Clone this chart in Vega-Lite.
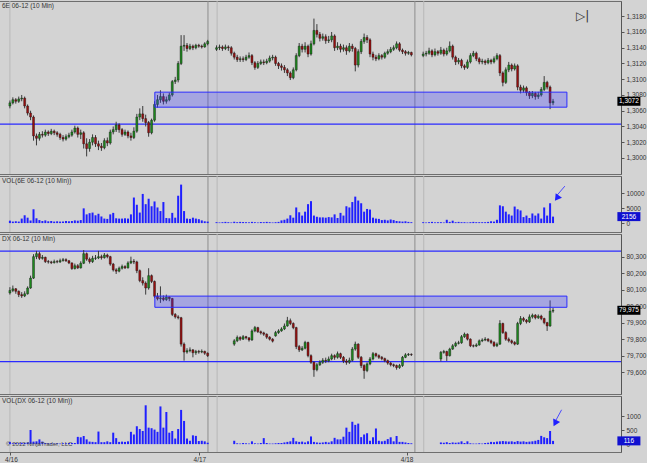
{
"$schema":"https://vega.github.io/schema/vega-lite/v6.json",
"background":"#d3d3d3",
"padding":{"left":-3,"top":0,"right":0,"bottom":0},
"spacing":0,
"config":{
 "font":"Liberation Sans",
 "view":{"stroke":"#6e6e6e","strokeWidth":1},
 "axis":{"labelFont":"Liberation Sans","labelFontSize":6.5,"labelColor":"#333333","tickColor":"#555555","domainColor":"#555555","tickSize":3,"labelPadding":2,"grid":false},
 "title":{"font":"Liberation Sans","fontSize":6.5,"fontWeight":"normal","color":"#333333","anchor":"start","frame":"group","offset":-9,"dx":3}
},
"datasets":{
 "s":[{"x":2,"c":"l"},{"x":69.1,"c":"d"},{"x":72.2,"c":"l"},{"x":139.2,"c":"d"},{"x":142.2,"c":"l"}],
 "lv":[{"p":"e","y":1.30431},{"p":"x","y":80.334},{"p":"x","y":79.664}],
 "z":[{"p":"e","x1":51.1,"x2":190.7,"y1":1.30645,"y2":1.30836},{"p":"x","x1":51.1,"x2":190.7,"y1":79.993,"y2":80.061}],
 "mk":[{"p":"e","x1":207.8,"x2":215.6,"xm":211.7,"y":1.3072,"t":"1,3072"},{"p":"ev","x1":207.8,"x2":215.6,"xm":211.7,"y":2156,"t":"2156"},{"p":"x","x1":207.8,"x2":215.6,"xm":211.7,"y":79.975,"t":"79,975"},{"p":"xv","x1":207.8,"x2":215.6,"xm":211.7,"y":116,"t":"116"}],
 "ar":[{"p":"ev","x1":190,"y1":12300,"x2":187.4,"y2":9300,"hx":187.3,"hy":8300},{"p":"xv","x1":188.9,"y1":1230,"x2":186.9,"y2":840,"hx":186.7,"hy":750}],
 "b":[
{"i":2,"eo":1.3066,"eh":1.3073,"el":1.3063,"ec":1.3070,"ev":800,"xo":80.080,"xh":80.115,"xl":80.070,"xc":80.095,"xv":80},
{"i":3,"eo":1.3070,"eh":1.3077,"el":1.3068,"ec":1.3074,"ev":500,"xo":80.095,"xh":80.125,"xl":80.085,"xc":80.105,"xv":30},
{"i":4,"eo":1.3074,"eh":1.3076,"el":1.3069,"ec":1.3072,"ev":600,"xo":80.105,"xh":80.110,"xl":80.075,"xc":80.090,"xv":40},
{"i":5,"eo":1.3072,"eh":1.3078,"el":1.3070,"ec":1.3075,"ev":500,"xo":80.090,"xh":80.095,"xl":80.055,"xc":80.070,"xv":30},
{"i":6,"eo":1.3075,"eh":1.3080,"el":1.3072,"ec":1.3076,"ev":1500,"xo":80.070,"xh":80.085,"xl":80.050,"xc":80.062,"xv":50},
{"i":7,"eo":1.3076,"eh":1.3078,"el":1.3063,"ec":1.3066,"ev":2600,"xo":80.062,"xh":80.090,"xl":80.055,"xc":80.075,"xv":40},
{"i":8,"eo":1.3066,"eh":1.3068,"el":1.3054,"ec":1.3057,"ev":1800,"xo":80.075,"xh":80.120,"xl":80.070,"xc":80.110,"xv":60},
{"i":9,"eo":1.3057,"eh":1.3060,"el":1.3048,"ec":1.3052,"ev":900,"xo":80.110,"xh":80.185,"xl":80.105,"xc":80.170,"xv":510},
{"i":10,"eo":1.3052,"eh":1.3054,"el":1.3022,"ec":1.3028,"ev":4600,"xo":80.170,"xh":80.315,"xl":80.165,"xc":80.300,"xv":90},
{"i":11,"eo":1.3028,"eh":1.3031,"el":1.3016,"ec":1.3025,"ev":1600,"xo":80.300,"xh":80.335,"xl":80.285,"xc":80.318,"xv":100},
{"i":12,"eo":1.3025,"eh":1.3033,"el":1.3022,"ec":1.3030,"ev":1000,"xo":80.318,"xh":80.330,"xl":80.280,"xc":80.290,"xv":170},
{"i":13,"eo":1.3030,"eh":1.3034,"el":1.3026,"ec":1.3029,"ev":700,"xo":80.290,"xh":80.310,"xl":80.282,"xc":80.296,"xv":90},
{"i":14,"eo":1.3029,"eh":1.3036,"el":1.3027,"ec":1.3033,"ev":900,"xo":80.296,"xh":80.300,"xl":80.262,"xc":80.270,"xv":40},
{"i":15,"eo":1.3033,"eh":1.3035,"el":1.3028,"ec":1.3031,"ev":600,"xo":80.270,"xh":80.280,"xl":80.258,"xc":80.268,"xv":30},
{"i":16,"eo":1.3031,"eh":1.3037,"el":1.3029,"ec":1.3034,"ev":700,"xo":80.268,"xh":80.275,"xl":80.255,"xc":80.264,"xv":30},
{"i":17,"eo":1.3034,"eh":1.3036,"el":1.3029,"ec":1.3032,"ev":500,"xo":80.264,"xh":80.282,"xl":80.258,"xc":80.270,"xv":20},
{"i":18,"eo":1.3032,"eh":1.3034,"el":1.3027,"ec":1.3030,"ev":600,"xo":80.270,"xh":80.280,"xl":80.260,"xc":80.268,"xv":30},
{"i":19,"eo":1.3030,"eh":1.3032,"el":1.3023,"ec":1.3026,"ev":500,"xo":80.268,"xh":80.288,"xl":80.262,"xc":80.276,"xv":20},
{"i":20,"eo":1.3026,"eh":1.3029,"el":1.3021,"ec":1.3024,"ev":500,"xo":80.276,"xh":80.292,"xl":80.270,"xc":80.282,"xv":30},
{"i":21,"eo":1.3024,"eh":1.3030,"el":1.3022,"ec":1.3027,"ev":700,"xo":80.282,"xh":80.290,"xl":80.268,"xc":80.275,"xv":30},
{"i":22,"eo":1.3027,"eh":1.3032,"el":1.3025,"ec":1.3029,"ev":600,"xo":80.275,"xh":80.280,"xl":80.255,"xc":80.262,"xv":40},
{"i":23,"eo":1.3029,"eh":1.3036,"el":1.3027,"ec":1.3033,"ev":700,"xo":80.262,"xh":80.265,"xl":80.220,"xc":80.228,"xv":40},
{"i":24,"eo":1.3033,"eh":1.3041,"el":1.3031,"ec":1.3038,"ev":900,"xo":80.228,"xh":80.258,"xl":80.222,"xc":80.245,"xv":40},
{"i":25,"eo":1.3038,"eh":1.3040,"el":1.3026,"ec":1.3030,"ev":800,"xo":80.245,"xh":80.255,"xl":80.225,"xc":80.232,"xv":260},
{"i":26,"eo":1.3030,"eh":1.3036,"el":1.3024,"ec":1.3032,"ev":1000,"xo":80.232,"xh":80.272,"xl":80.228,"xc":80.260,"xv":245},
{"i":27,"eo":1.3032,"eh":1.3034,"el":1.3012,"ec":1.3018,"ev":4900,"xo":80.260,"xh":80.340,"xl":80.255,"xc":80.318,"xv":290},
{"i":28,"eo":1.3018,"eh":1.3025,"el":1.3002,"ec":1.3012,"ev":2900,"xo":80.318,"xh":80.325,"xl":80.275,"xc":80.285,"xv":170},
{"i":29,"eo":1.3012,"eh":1.3024,"el":1.3008,"ec":1.3020,"ev":3300,"xo":80.285,"xh":80.295,"xl":80.258,"xc":80.270,"xv":90},
{"i":30,"eo":1.3020,"eh":1.3030,"el":1.3016,"ec":1.3026,"ev":3500,"xo":80.270,"xh":80.305,"xl":80.262,"xc":80.290,"xv":80},
{"i":31,"eo":1.3026,"eh":1.3029,"el":1.3014,"ec":1.3018,"ev":2600,"xo":80.290,"xh":80.310,"xl":80.280,"xc":80.292,"xv":70},
{"i":32,"eo":1.3018,"eh":1.3022,"el":1.3010,"ec":1.3015,"ev":3100,"xo":80.292,"xh":80.335,"xl":80.285,"xc":80.300,"xv":450},
{"i":33,"eo":1.3015,"eh":1.3019,"el":1.3009,"ec":1.3013,"ev":2200,"xo":80.300,"xh":80.312,"xl":80.282,"xc":80.294,"xv":70},
{"i":34,"eo":1.3013,"eh":1.3025,"el":1.3011,"ec":1.3022,"ev":1500,"xo":80.294,"xh":80.322,"xl":80.288,"xc":80.310,"xv":70},
{"i":35,"eo":1.3022,"eh":1.3026,"el":1.3015,"ec":1.3019,"ev":1400,"xo":80.310,"xh":80.318,"xl":80.290,"xc":80.300,"xv":100},
{"i":36,"eo":1.3019,"eh":1.3036,"el":1.3017,"ec":1.3033,"ev":2900,"xo":80.300,"xh":80.305,"xl":80.245,"xc":80.255,"xv":70},
{"i":37,"eo":1.3033,"eh":1.3040,"el":1.3030,"ec":1.3036,"ev":3400,"xo":80.255,"xh":80.262,"xl":80.210,"xc":80.220,"xv":410},
{"i":38,"eo":1.3036,"eh":1.3046,"el":1.3033,"ec":1.3042,"ev":1600,"xo":80.220,"xh":80.230,"xl":80.195,"xc":80.212,"xv":215},
{"i":39,"eo":1.3042,"eh":1.3044,"el":1.3032,"ec":1.3036,"ev":1500,"xo":80.212,"xh":80.240,"xl":80.205,"xc":80.230,"xv":80},
{"i":40,"eo":1.3036,"eh":1.3038,"el":1.3027,"ec":1.3030,"ev":1500,"xo":80.230,"xh":80.252,"xl":80.222,"xc":80.240,"xv":90},
{"i":41,"eo":1.3030,"eh":1.3036,"el":1.3028,"ec":1.3033,"ev":1600,"xo":80.240,"xh":80.248,"xl":80.225,"xc":80.232,"xv":80},
{"i":42,"eo":1.3033,"eh":1.3035,"el":1.3025,"ec":1.3028,"ev":1500,"xo":80.232,"xh":80.272,"xl":80.228,"xc":80.262,"xv":100},
{"i":43,"eo":1.3028,"eh":1.3032,"el":1.3022,"ec":1.3026,"ev":2900,"xo":80.262,"xh":80.300,"xl":80.255,"xc":80.272,"xv":440},
{"i":44,"eo":1.3026,"eh":1.3039,"el":1.3024,"ec":1.3034,"ev":8500,"xo":80.272,"xh":80.285,"xl":80.255,"xc":80.268,"xv":345},
{"i":45,"eo":1.3034,"eh":1.3056,"el":1.3032,"ec":1.3052,"ev":6100,"xo":80.268,"xh":80.275,"xl":80.200,"xc":80.215,"xv":640},
{"i":46,"eo":1.3052,"eh":1.3063,"el":1.3048,"ec":1.3056,"ev":3500,"xo":80.215,"xh":80.222,"xl":80.145,"xc":80.155,"xv":540},
{"i":47,"eo":1.3056,"eh":1.3066,"el":1.3046,"ec":1.3050,"ev":9700,"xo":80.155,"xh":80.175,"xl":80.125,"xc":80.140,"xv":470},
{"i":48,"eo":1.3050,"eh":1.3055,"el":1.3040,"ec":1.3045,"ev":6300,"xo":80.140,"xh":80.150,"xl":80.070,"xc":80.110,"xv":1390},
{"i":49,"eo":1.3045,"eh":1.3047,"el":1.3027,"ec":1.3032,"ev":8100,"xo":80.110,"xh":80.230,"xl":80.100,"xc":80.185,"xv":590},
{"i":50,"eo":1.3032,"eh":1.3050,"el":1.3030,"ec":1.3048,"ev":5600,"xo":80.185,"xh":80.192,"xl":80.140,"xc":80.150,"xv":570},
{"i":51,"eo":1.3048,"eh":1.3072,"el":1.3046,"ec":1.3068,"ev":7200,"xo":80.150,"xh":80.155,"xl":80.050,"xc":80.060,"xv":520},
{"i":52,"eo":1.3068,"eh":1.3080,"el":1.3064,"ec":1.3074,"ev":5200,"xo":80.060,"xh":80.080,"xl":80.035,"xc":80.045,"xv":440},
{"i":53,"eo":1.3074,"eh":1.3086,"el":1.3070,"ec":1.3078,"ev":4000,"xo":80.045,"xh":80.120,"xl":80.020,"xc":80.050,"xv":1350},
{"i":54,"eo":1.3078,"eh":1.3082,"el":1.3068,"ec":1.3072,"ev":7000,"xo":80.050,"xh":80.065,"xl":80.030,"xc":80.040,"xv":590},
{"i":55,"eo":1.3072,"eh":1.3078,"el":1.3069,"ec":1.3074,"ev":1700,"xo":80.040,"xh":80.070,"xl":80.032,"xc":80.055,"xv":1150},
{"i":56,"eo":1.3074,"eh":1.3083,"el":1.3072,"ec":1.3080,"ev":1600,"xo":80.055,"xh":80.060,"xl":80.030,"xc":80.046,"xv":410},
{"i":57,"eo":1.3080,"eh":1.3099,"el":1.3078,"ec":1.3097,"ev":3400,"xo":80.046,"xh":80.050,"xl":79.940,"xc":79.950,"xv":470},
{"i":58,"eo":1.3097,"eh":1.3103,"el":1.3094,"ec":1.3099,"ev":1800,"xo":79.950,"xh":79.958,"xl":79.925,"xc":79.935,"xv":200},
{"i":59,"eo":1.3099,"eh":1.3123,"el":1.3096,"ec":1.3120,"ev":9100,"xo":79.935,"xh":79.945,"xl":79.920,"xc":79.930,"xv":540},
{"i":60,"eo":1.3120,"eh":1.3156,"el":1.3118,"ec":1.3142,"ev":12800,"xo":79.930,"xh":79.935,"xl":79.755,"xc":79.770,"xv":1225},
{"i":61,"eo":1.3142,"eh":1.3156,"el":1.3136,"ec":1.3143,"ev":4000,"xo":79.770,"xh":79.780,"xl":79.670,"xc":79.722,"xv":830},
{"i":62,"eo":1.3143,"eh":1.3146,"el":1.3135,"ec":1.3139,"ev":1500,"xo":79.722,"xh":79.745,"xl":79.712,"xc":79.730,"xv":200},
{"i":63,"eo":1.3139,"eh":1.3145,"el":1.3137,"ec":1.3142,"ev":1400,"xo":79.730,"xh":79.750,"xl":79.720,"xc":79.735,"xv":120},
{"i":64,"eo":1.3142,"eh":1.3144,"el":1.3137,"ec":1.3140,"ev":1800,"xo":79.735,"xh":79.740,"xl":79.690,"xc":79.718,"xv":315},
{"i":65,"eo":1.3140,"eh":1.3145,"el":1.3138,"ec":1.3143,"ev":1500,"xo":79.718,"xh":79.735,"xl":79.705,"xc":79.725,"xv":295},
{"i":66,"eo":1.3143,"eh":1.3145,"el":1.3140,"ec":1.3142,"ev":1300,"xo":79.725,"xh":79.735,"xl":79.712,"xc":79.722,"xv":110},
{"i":67,"eo":1.3142,"eh":1.3144,"el":1.3139,"ec":1.3141,"ev":900,"xo":79.722,"xh":79.738,"xl":79.715,"xc":79.726,"xv":120},
{"i":68,"eo":1.3141,"eh":1.3147,"el":1.3140,"ec":1.3145,"ev":600,"xo":79.726,"xh":79.730,"xl":79.705,"xc":79.715,"xv":100},
{"i":69,"eo":1.3145,"eh":1.3150,"el":1.3143,"ec":1.3148,"ev":500,"xo":79.715,"xh":79.720,"xl":79.692,"xc":79.700,"xv":50},
{"i":72,"eo":1.3138,"eh":1.3143,"el":1.3136,"ec":1.3140,"ev":300},
{"i":73,"eo":1.3140,"eh":1.3144,"el":1.3137,"ec":1.3141,"ev":200},
{"i":74,"eo":1.3141,"eh":1.3143,"el":1.3136,"ec":1.3139,"ev":300},
{"i":75,"eo":1.3139,"eh":1.3144,"el":1.3137,"ec":1.3141,"ev":400},
{"i":76,"eo":1.3141,"eh":1.3143,"el":1.3136,"ec":1.3140,"ev":300},
{"i":77,"eo":1.3140,"eh":1.3142,"el":1.3130,"ec":1.3133,"ev":200},
{"i":78,"eo":1.3133,"eh":1.3135,"el":1.3125,"ec":1.3128,"ev":450,"xo":79.770,"xh":79.800,"xl":79.760,"xc":79.790,"xv":120},
{"i":79,"eo":1.3128,"eh":1.3131,"el":1.3122,"ec":1.3125,"ev":300,"xo":79.790,"xh":79.822,"xl":79.782,"xc":79.810,"xv":30},
{"i":80,"eo":1.3125,"eh":1.3129,"el":1.3122,"ec":1.3126,"ev":400,"xo":79.810,"xh":79.818,"xl":79.790,"xc":79.800,"xv":20},
{"i":81,"eo":1.3126,"eh":1.3129,"el":1.3122,"ec":1.3125,"ev":350,"xo":79.800,"xh":79.825,"xl":79.795,"xc":79.815,"xv":40},
{"i":82,"eo":1.3125,"eh":1.3131,"el":1.3123,"ec":1.3128,"ev":300,"xo":79.815,"xh":79.820,"xl":79.798,"xc":79.808,"xv":30},
{"i":83,"eo":1.3128,"eh":1.3134,"el":1.3126,"ec":1.3130,"ev":250,"xo":79.808,"xh":79.812,"xl":79.785,"xc":79.795,"xv":20},
{"i":84,"eo":1.3130,"eh":1.3132,"el":1.3118,"ec":1.3121,"ev":400,"xo":79.795,"xh":79.860,"xl":79.790,"xc":79.850,"xv":100},
{"i":85,"eo":1.3121,"eh":1.3123,"el":1.3112,"ec":1.3115,"ev":300,"xo":79.850,"xh":79.880,"xl":79.842,"xc":79.870,"xv":30},
{"i":86,"eo":1.3115,"eh":1.3123,"el":1.3113,"ec":1.3120,"ev":200,"xo":79.870,"xh":79.875,"xl":79.838,"xc":79.845,"xv":20},
{"i":87,"eo":1.3120,"eh":1.3125,"el":1.3118,"ec":1.3122,"ev":350,"xo":79.845,"xh":79.852,"xl":79.828,"xc":79.838,"xv":40},
{"i":88,"eo":1.3122,"eh":1.3125,"el":1.3118,"ec":1.3121,"ev":300,"xo":79.838,"xh":79.845,"xl":79.820,"xc":79.830,"xv":215},
{"i":89,"eo":1.3121,"eh":1.3126,"el":1.3119,"ec":1.3123,"ev":400,"xo":79.830,"xh":79.835,"xl":79.802,"xc":79.812,"xv":40},
{"i":90,"eo":1.3123,"eh":1.3130,"el":1.3121,"ec":1.3127,"ev":300,"xo":79.812,"xh":79.818,"xl":79.792,"xc":79.800,"xv":20},
{"i":91,"eo":1.3127,"eh":1.3131,"el":1.3124,"ec":1.3128,"ev":200,"xo":79.800,"xh":79.806,"xl":79.780,"xc":79.788,"xv":20},
{"i":92,"eo":1.3128,"eh":1.3130,"el":1.3117,"ec":1.3120,"ev":300,"xo":79.820,"xh":79.850,"xl":79.815,"xc":79.840,"xv":30},
{"i":93,"eo":1.3120,"eh":1.3122,"el":1.3113,"ec":1.3117,"ev":400,"xo":79.840,"xh":79.860,"xl":79.832,"xc":79.850,"xv":40},
{"i":94,"eo":1.3117,"eh":1.3120,"el":1.3111,"ec":1.3115,"ev":900,"xo":79.850,"xh":79.872,"xl":79.845,"xc":79.862,"xv":40},
{"i":95,"eo":1.3115,"eh":1.3118,"el":1.3108,"ec":1.3112,"ev":1100,"xo":79.862,"xh":79.895,"xl":79.855,"xc":79.880,"xv":60},
{"i":96,"eo":1.3112,"eh":1.3114,"el":1.3104,"ec":1.3108,"ev":1500,"xo":79.880,"xh":79.935,"xl":79.875,"xc":79.912,"xv":80},
{"i":97,"eo":1.3108,"eh":1.3110,"el":1.3099,"ec":1.3102,"ev":2600,"xo":79.912,"xh":79.925,"xl":79.885,"xc":79.895,"xv":100},
{"i":98,"eo":1.3102,"eh":1.3115,"el":1.3100,"ec":1.3112,"ev":1800,"xo":79.895,"xh":79.902,"xl":79.860,"xc":79.870,"xv":225},
{"i":99,"eo":1.3112,"eh":1.3133,"el":1.3110,"ec":1.3130,"ev":5200,"xo":79.870,"xh":79.875,"xl":79.740,"xc":79.755,"xv":100},
{"i":100,"eo":1.3130,"eh":1.3146,"el":1.3128,"ec":1.3142,"ev":3600,"xo":79.755,"xh":79.765,"xl":79.722,"xc":79.735,"xv":80},
{"i":101,"eo":1.3142,"eh":1.3145,"el":1.3134,"ec":1.3138,"ev":2500,"xo":79.735,"xh":79.758,"xl":79.728,"xc":79.745,"xv":90},
{"i":102,"eo":1.3138,"eh":1.3147,"el":1.3134,"ec":1.3142,"ev":3800,"xo":79.745,"xh":79.790,"xl":79.738,"xc":79.780,"xv":60},
{"i":103,"eo":1.3142,"eh":1.3144,"el":1.3128,"ec":1.3132,"ev":6300,"xo":79.780,"xh":79.785,"xl":79.690,"xc":79.700,"xv":100},
{"i":104,"eo":1.3132,"eh":1.3149,"el":1.3130,"ec":1.3145,"ev":7300,"xo":79.700,"xh":79.708,"xl":79.650,"xc":79.660,"xv":275},
{"i":105,"eo":1.3145,"eh":1.3177,"el":1.3143,"ec":1.3162,"ev":2500,"xo":79.660,"xh":79.665,"xl":79.572,"xc":79.615,"xv":80},
{"i":106,"eo":1.3162,"eh":1.3170,"el":1.3153,"ec":1.3157,"ev":2100,"xo":79.615,"xh":79.655,"xl":79.605,"xc":79.645,"xv":60},
{"i":107,"eo":1.3157,"eh":1.3160,"el":1.3148,"ec":1.3152,"ev":1900,"xo":79.645,"xh":79.672,"xl":79.638,"xc":79.660,"xv":50},
{"i":108,"eo":1.3152,"eh":1.3158,"el":1.3149,"ec":1.3154,"ev":1900,"xo":79.660,"xh":79.685,"xl":79.650,"xc":79.672,"xv":60},
{"i":109,"eo":1.3154,"eh":1.3157,"el":1.3145,"ec":1.3149,"ev":1800,"xo":79.672,"xh":79.688,"xl":79.655,"xc":79.668,"xv":80},
{"i":110,"eo":1.3149,"eh":1.3155,"el":1.3146,"ec":1.3150,"ev":2000,"xo":79.668,"xh":79.695,"xl":79.660,"xc":79.680,"xv":60},
{"i":111,"eo":1.3150,"eh":1.3160,"el":1.3147,"ec":1.3155,"ev":1900,"xo":79.680,"xh":79.712,"xl":79.672,"xc":79.700,"xv":100},
{"i":112,"eo":1.3155,"eh":1.3157,"el":1.3136,"ec":1.3140,"ev":2900,"xo":79.700,"xh":79.708,"xl":79.675,"xc":79.690,"xv":225},
{"i":113,"eo":1.3140,"eh":1.3147,"el":1.3137,"ec":1.3142,"ev":1700,"xo":79.690,"xh":79.725,"xl":79.682,"xc":79.712,"xv":170},
{"i":114,"eo":1.3142,"eh":1.3145,"el":1.3134,"ec":1.3138,"ev":3400,"xo":79.712,"xh":79.718,"xl":79.680,"xc":79.690,"xv":170},
{"i":115,"eo":1.3138,"eh":1.3144,"el":1.3135,"ec":1.3140,"ev":2500,"xo":79.690,"xh":79.698,"xl":79.655,"xc":79.668,"xv":265},
{"i":116,"eo":1.3140,"eh":1.3143,"el":1.3131,"ec":1.3136,"ev":5600,"xo":79.668,"xh":79.680,"xl":79.645,"xc":79.660,"xv":590},
{"i":117,"eo":1.3136,"eh":1.3146,"el":1.3134,"ec":1.3142,"ev":5200,"xo":79.660,"xh":79.688,"xl":79.650,"xc":79.672,"xv":440},
{"i":118,"eo":1.3142,"eh":1.3145,"el":1.3135,"ec":1.3139,"ev":7000,"xo":79.672,"xh":79.752,"xl":79.665,"xc":79.740,"xv":800},
{"i":119,"eo":1.3139,"eh":1.3141,"el":1.3110,"ec":1.3118,"ev":8800,"xo":79.740,"xh":79.785,"xl":79.730,"xc":79.770,"xv":690},
{"i":120,"eo":1.3118,"eh":1.3138,"el":1.3115,"ec":1.3135,"ev":7500,"xo":79.770,"xh":79.775,"xl":79.680,"xc":79.690,"xv":735},
{"i":121,"eo":1.3135,"eh":1.3151,"el":1.3132,"ec":1.3148,"ev":6600,"xo":79.690,"xh":79.698,"xl":79.625,"xc":79.640,"xv":250},
{"i":122,"eo":1.3148,"eh":1.3158,"el":1.3145,"ec":1.3153,"ev":3800,"xo":79.640,"xh":79.648,"xl":79.560,"xc":79.610,"xv":345},
{"i":123,"eo":1.3153,"eh":1.3156,"el":1.3146,"ec":1.3150,"ev":4700,"xo":79.610,"xh":79.660,"xl":79.600,"xc":79.650,"xv":390},
{"i":124,"eo":1.3150,"eh":1.3152,"el":1.3128,"ec":1.3132,"ev":4500,"xo":79.650,"xh":79.692,"xl":79.642,"xc":79.680,"xv":120},
{"i":125,"eo":1.3132,"eh":1.3135,"el":1.3124,"ec":1.3128,"ev":1800,"xo":79.680,"xh":79.722,"xl":79.672,"xc":79.712,"xv":245},
{"i":126,"eo":1.3128,"eh":1.3131,"el":1.3123,"ec":1.3126,"ev":1500,"xo":79.712,"xh":79.718,"xl":79.690,"xc":79.700,"xv":560},
{"i":127,"eo":1.3126,"eh":1.3133,"el":1.3124,"ec":1.3130,"ev":1400,"xo":79.700,"xh":79.708,"xl":79.680,"xc":79.690,"xv":120},
{"i":128,"eo":1.3130,"eh":1.3132,"el":1.3125,"ec":1.3128,"ev":1000,"xo":79.690,"xh":79.698,"xl":79.672,"xc":79.682,"xv":100},
{"i":129,"eo":1.3128,"eh":1.3135,"el":1.3126,"ec":1.3133,"ev":1100,"xo":79.682,"xh":79.688,"xl":79.660,"xc":79.670,"xv":120},
{"i":130,"eo":1.3133,"eh":1.3138,"el":1.3131,"ec":1.3135,"ev":900,"xo":79.670,"xh":79.676,"xl":79.645,"xc":79.655,"xv":180},
{"i":131,"eo":1.3135,"eh":1.3141,"el":1.3133,"ec":1.3138,"ev":1200,"xo":79.655,"xh":79.662,"xl":79.635,"xc":79.645,"xv":245},
{"i":132,"eo":1.3138,"eh":1.3143,"el":1.3136,"ec":1.3140,"ev":1000,"xo":79.645,"xh":79.652,"xl":79.630,"xc":79.640,"xv":100},
{"i":133,"eo":1.3140,"eh":1.3148,"el":1.3138,"ec":1.3145,"ev":700,"xo":79.640,"xh":79.646,"xl":79.615,"xc":79.628,"xv":290},
{"i":134,"eo":1.3145,"eh":1.3147,"el":1.3135,"ec":1.3137,"ev":600,"xo":79.628,"xh":79.650,"xl":79.620,"xc":79.640,"xv":80},
{"i":135,"eo":1.3137,"eh":1.3139,"el":1.3132,"ec":1.3135,"ev":500,"xo":79.640,"xh":79.698,"xl":79.632,"xc":79.690,"xv":80},
{"i":136,"eo":1.3135,"eh":1.3137,"el":1.3130,"ec":1.3133,"ev":600,"xo":79.690,"xh":79.715,"xl":79.685,"xc":79.705,"xv":60},
{"i":137,"eo":1.3133,"eh":1.3136,"el":1.3131,"ec":1.3134,"ev":400,"xo":79.705,"xh":79.716,"xl":79.698,"xc":79.708,"xv":40},
{"i":138,"eo":1.3134,"eh":1.3135,"el":1.3129,"ec":1.3131,"ev":300,"xo":79.708,"xh":79.714,"xl":79.698,"xc":79.706,"xv":30},
{"i":142,"eo":1.3130,"eh":1.3135,"el":1.3128,"ec":1.3132,"ev":300},
{"i":143,"eo":1.3132,"eh":1.3136,"el":1.3129,"ec":1.3133,"ev":200},
{"i":144,"eo":1.3133,"eh":1.3140,"el":1.3131,"ec":1.3136,"ev":300},
{"i":145,"eo":1.3136,"eh":1.3138,"el":1.3128,"ec":1.3131,"ev":400},
{"i":146,"eo":1.3131,"eh":1.3139,"el":1.3129,"ec":1.3135,"ev":250},
{"i":147,"eo":1.3135,"eh":1.3137,"el":1.3130,"ec":1.3133,"ev":300},
{"i":148,"eo":1.3133,"eh":1.3141,"el":1.3131,"ec":1.3137,"ev":300,"xo":79.680,"xh":79.728,"xl":79.665,"xc":79.720,"xv":60},
{"i":149,"eo":1.3137,"eh":1.3139,"el":1.3129,"ec":1.3132,"ev":200,"xo":79.720,"xh":79.735,"xl":79.712,"xc":79.725,"xv":50},
{"i":150,"eo":1.3132,"eh":1.3140,"el":1.3130,"ec":1.3136,"ev":1100,"xo":79.725,"xh":79.730,"xl":79.668,"xc":79.700,"xv":70},
{"i":151,"eo":1.3136,"eh":1.3148,"el":1.3134,"ec":1.3142,"ev":400,"xo":79.700,"xh":79.748,"xl":79.695,"xc":79.740,"xv":40},
{"i":152,"eo":1.3142,"eh":1.3144,"el":1.3125,"ec":1.3128,"ev":800,"xo":79.740,"xh":79.770,"xl":79.735,"xc":79.760,"xv":60},
{"i":153,"eo":1.3128,"eh":1.3130,"el":1.3118,"ec":1.3122,"ev":300,"xo":79.760,"xh":79.785,"xl":79.752,"xc":79.775,"xv":50},
{"i":154,"eo":1.3122,"eh":1.3127,"el":1.3119,"ec":1.3124,"ev":400,"xo":79.775,"xh":79.790,"xl":79.768,"xc":79.778,"xv":60},
{"i":155,"eo":1.3124,"eh":1.3126,"el":1.3114,"ec":1.3117,"ev":300,"xo":79.778,"xh":79.825,"xl":79.772,"xc":79.815,"xv":100},
{"i":156,"eo":1.3117,"eh":1.3119,"el":1.3112,"ec":1.3115,"ev":300,"xo":79.815,"xh":79.840,"xl":79.808,"xc":79.830,"xv":40},
{"i":157,"eo":1.3115,"eh":1.3125,"el":1.3113,"ec":1.3122,"ev":200,"xo":79.830,"xh":79.835,"xl":79.792,"xc":79.800,"xv":100},
{"i":158,"eo":1.3122,"eh":1.3133,"el":1.3120,"ec":1.3130,"ev":300,"xo":79.800,"xh":79.805,"xl":79.752,"xc":79.760,"xv":30},
{"i":159,"eo":1.3130,"eh":1.3136,"el":1.3128,"ec":1.3133,"ev":400,"xo":79.760,"xh":79.768,"xl":79.750,"xc":79.758,"xv":20},
{"i":160,"eo":1.3133,"eh":1.3135,"el":1.3123,"ec":1.3126,"ev":300,"xo":79.758,"xh":79.775,"xl":79.752,"xc":79.765,"xv":20},
{"i":161,"eo":1.3126,"eh":1.3128,"el":1.3119,"ec":1.3122,"ev":300,"xo":79.765,"xh":79.798,"xl":79.760,"xc":79.790,"xv":30},
{"i":162,"eo":1.3122,"eh":1.3126,"el":1.3119,"ec":1.3123,"ev":300,"xo":79.790,"xh":79.805,"xl":79.782,"xc":79.795,"xv":20},
{"i":163,"eo":1.3123,"eh":1.3125,"el":1.3118,"ec":1.3121,"ev":300,"xo":79.795,"xh":79.812,"xl":79.788,"xc":79.800,"xv":40},
{"i":164,"eo":1.3121,"eh":1.3127,"el":1.3119,"ec":1.3124,"ev":400,"xo":79.800,"xh":79.806,"xl":79.782,"xc":79.790,"xv":50},
{"i":165,"eo":1.3124,"eh":1.3126,"el":1.3119,"ec":1.3122,"ev":600,"xo":79.790,"xh":79.798,"xl":79.770,"xc":79.780,"xv":80},
{"i":166,"eo":1.3122,"eh":1.3129,"el":1.3120,"ec":1.3126,"ev":500,"xo":79.780,"xh":79.788,"xl":79.752,"xc":79.760,"xv":70},
{"i":167,"eo":1.3126,"eh":1.3133,"el":1.3124,"ec":1.3130,"ev":1100,"xo":79.760,"xh":79.780,"xl":79.752,"xc":79.770,"xv":90},
{"i":168,"eo":1.3130,"eh":1.3132,"el":1.3104,"ec":1.3108,"ev":5900,"xo":79.770,"xh":79.915,"xl":79.765,"xc":79.895,"xv":100},
{"i":169,"eo":1.3108,"eh":1.3110,"el":1.3091,"ec":1.3096,"ev":5600,"xo":79.895,"xh":79.900,"xl":79.832,"xc":79.840,"xv":110},
{"i":170,"eo":1.3096,"eh":1.3115,"el":1.3094,"ec":1.3112,"ev":3800,"xo":79.840,"xh":79.848,"xl":79.790,"xc":79.800,"xv":100},
{"i":171,"eo":1.3112,"eh":1.3122,"el":1.3109,"ec":1.3118,"ev":2900,"xo":79.800,"xh":79.810,"xl":79.780,"xc":79.790,"xv":90},
{"i":172,"eo":1.3118,"eh":1.3120,"el":1.3110,"ec":1.3113,"ev":2500,"xo":79.790,"xh":79.798,"xl":79.770,"xc":79.780,"xv":100},
{"i":173,"eo":1.3113,"eh":1.3120,"el":1.3111,"ec":1.3117,"ev":5500,"xo":79.780,"xh":79.788,"xl":79.762,"xc":79.770,"xv":80},
{"i":174,"eo":1.3117,"eh":1.3119,"el":1.3086,"ec":1.3090,"ev":4600,"xo":79.770,"xh":79.905,"xl":79.765,"xc":79.895,"xv":110},
{"i":175,"eo":1.3090,"eh":1.3093,"el":1.3082,"ec":1.3086,"ev":4200,"xo":79.895,"xh":79.940,"xl":79.885,"xc":79.925,"xv":90},
{"i":176,"eo":1.3086,"eh":1.3092,"el":1.3083,"ec":1.3089,"ev":2000,"xo":79.925,"xh":79.935,"xl":79.905,"xc":79.915,"xv":100},
{"i":177,"eo":1.3089,"eh":1.3091,"el":1.3079,"ec":1.3083,"ev":2500,"xo":79.915,"xh":79.922,"xl":79.895,"xc":79.905,"xv":80},
{"i":178,"eo":1.3083,"eh":1.3085,"el":1.3075,"ec":1.3079,"ev":1700,"xo":79.905,"xh":79.950,"xl":79.898,"xc":79.935,"xv":90},
{"i":179,"eo":1.3079,"eh":1.3085,"el":1.3076,"ec":1.3082,"ev":3200,"xo":79.935,"xh":79.955,"xl":79.925,"xc":79.945,"xv":100},
{"i":180,"eo":1.3082,"eh":1.3084,"el":1.3074,"ec":1.3078,"ev":2500,"xo":79.945,"xh":79.952,"xl":79.920,"xc":79.930,"xv":120},
{"i":181,"eo":1.3078,"eh":1.3084,"el":1.3075,"ec":1.3080,"ev":3200,"xo":79.930,"xh":79.950,"xl":79.922,"xc":79.940,"xv":150},
{"i":182,"eo":1.3080,"eh":1.3090,"el":1.3078,"ec":1.3087,"ev":1500,"xo":79.940,"xh":79.948,"xl":79.915,"xc":79.925,"xv":295},
{"i":183,"eo":1.3087,"eh":1.3104,"el":1.3085,"ec":1.3096,"ev":5200,"xo":79.925,"xh":79.930,"xl":79.890,"xc":79.900,"xv":245},
{"i":184,"eo":1.3096,"eh":1.3098,"el":1.3087,"ec":1.3090,"ev":2500,"xo":79.900,"xh":79.905,"xl":79.850,"xc":79.880,"xv":215},
{"i":185,"eo":1.3090,"eh":1.3092,"el":1.3062,"ec":1.3070,"ev":6600,"xo":79.880,"xh":80.035,"xl":79.875,"xc":79.970,"xv":470},
{"i":186,"eo":1.3070,"eh":1.3075,"el":1.3067,"ec":1.3072,"ev":2156,"xo":79.970,"xh":79.990,"xl":79.960,"xc":79.975,"xv":116}
 ]
},
"vconcat":[
{
 "width":622,"height":173,
 "title":{"text":"6E 06-12 (10 Min)"},
 "resolve":{"axis":{"x":"independent","y":"independent"}},
 "layer":[
  {"data":{"name":"s"},"mark":{"type":"rule","strokeWidth":1},
   "encoding":{"x":{"field":"x","type":"quantitative","scale":{"domain":[0,207.33],"nice":false,"zero":false},"axis":null},
    "color":{"condition":{"test":"datum.c=='d'","value":"#8c8c8c"},"value":"#b8b8b8"}}},
  {"data":{"name":"lv"},"transform":[{"filter":"datum.p=='e'"}],"mark":{"type":"rule","color":"#2a2aff","strokeWidth":1.3},
   "encoding":{"y":{"field":"y","type":"quantitative","scale":{"domain":[1.2986,1.3193],"nice":false,"zero":false},"axis":null}}},
  {"data":{"name":"b"},"mark":{"type":"rule","color":"#3a3a3a","strokeWidth":1},
   "encoding":{"x":{"field":"i","type":"quantitative","scale":{"domain":[0,207.33],"nice":false,"zero":false},"axis":null},
    "y":{"field":"el","type":"quantitative","scale":{"domain":[1.2986,1.3193],"nice":false,"zero":false},
     "axis":{"orient":"right","title":null,"values":[1.3,1.302,1.304,1.306,1.308,1.31,1.312,1.314,1.316,1.318],"labelExpr":"replace(format(datum.value,'.4f'),'.',',')"}},
    "y2":{"field":"eh"}}},
  {"data":{"name":"b"},"mark":{"type":"bar","width":2,"stroke":"#111111","strokeWidth":0.4},
   "encoding":{"x":{"field":"i","type":"quantitative","scale":{"domain":[0,207.33],"nice":false,"zero":false},"axis":null},
    "y":{"field":"eo","type":"quantitative","scale":{"domain":[1.2986,1.3193],"nice":false,"zero":false},"axis":null},
    "y2":{"field":"ec"},
    "color":{"condition":{"test":"datum.ec>=datum.eo","value":"#1e8a1e"},"value":"#9a1010"}}},
  {"data":{"name":"z"},"transform":[{"filter":"datum.p=='e'"}],"mark":{"type":"rect","fill":"#3c3cff","fillOpacity":0.3,"stroke":"#2a2aff","strokeWidth":1},
   "encoding":{"x":{"field":"x1","type":"quantitative","scale":{"domain":[0,207.33],"nice":false,"zero":false},"axis":null},"x2":{"field":"x2"},
    "y":{"field":"y1","type":"quantitative","scale":{"domain":[1.2986,1.3193],"nice":false,"zero":false},"axis":null},"y2":{"field":"y2"}}},
  {"data":{"name":"mk"},"transform":[{"filter":"datum.p=='e'"}],"mark":{"type":"bar","size":9,"clip":false,"color":"#000000","orient":"horizontal"},
   "encoding":{"x":{"field":"x1","type":"quantitative","scale":{"domain":[0,207.33],"nice":false,"zero":false},"axis":null},"x2":{"field":"x2"},
    "y":{"field":"y","type":"quantitative","scale":{"domain":[1.2986,1.3193],"nice":false,"zero":false},"axis":null}}},
  {"data":{"name":"mk"},"transform":[{"filter":"datum.p=='e'"}],"mark":{"type":"text","clip":false,"color":"#ffffff","fontSize":6.5,"align":"center","baseline":"middle"},
   "encoding":{"x":{"field":"xm","type":"quantitative","scale":{"domain":[0,207.33],"nice":false,"zero":false},"axis":null},
    "y":{"field":"y","type":"quantitative","scale":{"domain":[1.2986,1.3193],"nice":false,"zero":false},"axis":null},"text":{"field":"t"}}},
  {"data":{"values":[{"x":196,"y":1.3180,"t":"▷|"}]},"mark":{"type":"text","fontSize":12,"color":"#333333","font":"DejaVu Sans","align":"center","baseline":"middle"},
   "encoding":{"x":{"field":"x","type":"quantitative","scale":{"domain":[0,207.33],"nice":false,"zero":false},"axis":null},
    "y":{"field":"y","type":"quantitative","scale":{"domain":[1.2986,1.3193],"nice":false,"zero":false},"axis":null},"text":{"field":"t"}}}
 ]
},
{
 "width":622,"height":56,
 "title":{"text":"VOL(6E 06-12 (10 Min))"},
 "resolve":{"axis":{"x":"independent","y":"independent"}},
 "layer":[
  {"data":{"name":"s"},"mark":{"type":"rule","strokeWidth":1},
   "encoding":{"x":{"field":"x","type":"quantitative","scale":{"domain":[0,207.33],"nice":false,"zero":false},"axis":null},
    "color":{"condition":{"test":"datum.c=='d'","value":"#8c8c8c"},"value":"#b8b8b8"}}},
  {"data":{"name":"b"},"mark":{"type":"bar","width":2,"color":"#1f1fff"},
   "encoding":{"x":{"field":"i","type":"quantitative","scale":{"domain":[0,207.33],"nice":false,"zero":false},"axis":null},
    "y":{"field":"ev","type":"quantitative","scale":{"domain":[-1300,14000],"nice":false,"zero":false},
     "axis":{"orient":"right","title":null,"values":[0,5000,10000],"format":"d"}},
    "y2":{"datum":0}}},
  {"data":{"name":"ar"},"transform":[{"filter":"datum.p=='ev'"}],"mark":{"type":"rule","color":"#4a4aff","strokeWidth":1},
   "encoding":{"x":{"field":"x1","type":"quantitative","scale":{"domain":[0,207.33],"nice":false,"zero":false},"axis":null},"x2":{"field":"x2"},
    "y":{"field":"y1","type":"quantitative","scale":{"domain":[-1300,14000],"nice":false,"zero":false},"axis":null},"y2":{"field":"y2"}}},
  {"data":{"name":"ar"},"transform":[{"filter":"datum.p=='ev'"}],"mark":{"type":"point","shape":"triangle-down","filled":true,"size":60,"angle":36,"color":"#1f1fff","opacity":1},
   "encoding":{"x":{"field":"hx","type":"quantitative","scale":{"domain":[0,207.33],"nice":false,"zero":false},"axis":null},
    "y":{"field":"hy","type":"quantitative","scale":{"domain":[-1300,14000],"nice":false,"zero":false},"axis":null}}},
  {"data":{"name":"mk"},"transform":[{"filter":"datum.p=='ev'"}],"mark":{"type":"bar","size":9,"clip":false,"color":"#1010d0","orient":"horizontal"},
   "encoding":{"x":{"field":"x1","type":"quantitative","scale":{"domain":[0,207.33],"nice":false,"zero":false},"axis":null},"x2":{"field":"x2"},
    "y":{"field":"y","type":"quantitative","scale":{"domain":[-1300,14000],"nice":false,"zero":false},"axis":null}}},
  {"data":{"name":"mk"},"transform":[{"filter":"datum.p=='ev'"}],"mark":{"type":"text","clip":false,"color":"#ffffff","fontSize":6.5,"align":"center","baseline":"middle"},
   "encoding":{"x":{"field":"xm","type":"quantitative","scale":{"domain":[0,207.33],"nice":false,"zero":false},"axis":null},
    "y":{"field":"y","type":"quantitative","scale":{"domain":[-1300,14000],"nice":false,"zero":false},"axis":null},"text":{"field":"t"}}}
 ]
},
{
 "width":622,"height":160,
 "title":{"text":"DX 06-12 (10 Min)"},
 "resolve":{"axis":{"x":"independent","y":"independent"}},
 "layer":[
  {"data":{"name":"s"},"mark":{"type":"rule","strokeWidth":1},
   "encoding":{"x":{"field":"x","type":"quantitative","scale":{"domain":[0,207.33],"nice":false,"zero":false},"axis":null},
    "color":{"condition":{"test":"datum.c=='d'","value":"#8c8c8c"},"value":"#b8b8b8"}}},
  {"data":{"name":"lv"},"transform":[{"filter":"datum.p=='x'"}],"mark":{"type":"rule","color":"#2a2aff","strokeWidth":1.3},
   "encoding":{"y":{"field":"y","type":"quantitative","scale":{"domain":[79.498,80.407],"nice":false,"zero":false},"axis":null}}},
  {"data":{"name":"b"},"mark":{"type":"rule","color":"#3a3a3a","strokeWidth":1},
   "encoding":{"x":{"field":"i","type":"quantitative","scale":{"domain":[0,207.33],"nice":false,"zero":false},"axis":null},
    "y":{"field":"xl","type":"quantitative","scale":{"domain":[79.498,80.407],"nice":false,"zero":false},
     "axis":{"orient":"right","title":null,"values":[79.6,79.7,79.8,79.9,80.0,80.1,80.2,80.3],"labelExpr":"replace(format(datum.value,'.3f'),'.',',')"}},
    "y2":{"field":"xh"}}},
  {"data":{"name":"b"},"mark":{"type":"bar","width":2,"stroke":"#111111","strokeWidth":0.4},
   "encoding":{"x":{"field":"i","type":"quantitative","scale":{"domain":[0,207.33],"nice":false,"zero":false},"axis":null},
    "y":{"field":"xo","type":"quantitative","scale":{"domain":[79.498,80.407],"nice":false,"zero":false},"axis":null},
    "y2":{"field":"xc"},
    "color":{"condition":{"test":"datum.xc>=datum.xo","value":"#1e8a1e"},"value":"#9a1010"}}},
  {"data":{"name":"z"},"transform":[{"filter":"datum.p=='x'"}],"mark":{"type":"rect","fill":"#3c3cff","fillOpacity":0.3,"stroke":"#2a2aff","strokeWidth":1},
   "encoding":{"x":{"field":"x1","type":"quantitative","scale":{"domain":[0,207.33],"nice":false,"zero":false},"axis":null},"x2":{"field":"x2"},
    "y":{"field":"y1","type":"quantitative","scale":{"domain":[79.498,80.407],"nice":false,"zero":false},"axis":null},"y2":{"field":"y2"}}},
  {"data":{"name":"mk"},"transform":[{"filter":"datum.p=='x'"}],"mark":{"type":"bar","size":9,"clip":false,"color":"#000000","orient":"horizontal"},
   "encoding":{"x":{"field":"x1","type":"quantitative","scale":{"domain":[0,207.33],"nice":false,"zero":false},"axis":null},"x2":{"field":"x2"},
    "y":{"field":"y","type":"quantitative","scale":{"domain":[79.498,80.407],"nice":false,"zero":false},"axis":null}}},
  {"data":{"name":"mk"},"transform":[{"filter":"datum.p=='x'"}],"mark":{"type":"text","clip":false,"color":"#ffffff","fontSize":6.5,"align":"center","baseline":"middle"},
   "encoding":{"x":{"field":"xm","type":"quantitative","scale":{"domain":[0,207.33],"nice":false,"zero":false},"axis":null},
    "y":{"field":"y","type":"quantitative","scale":{"domain":[79.498,80.407],"nice":false,"zero":false},"axis":null},"text":{"field":"t"}}}
 ]
},
{
 "width":622,"height":56,
 "title":{"text":"VOL(DX 06-12 (10 Min))"},
 "resolve":{"axis":{"x":"independent","y":"independent"}},
 "layer":[
  {"data":{"name":"s"},"mark":{"type":"rule","strokeWidth":1},
   "encoding":{"x":{"field":"x","type":"quantitative","scale":{"domain":[0,207.33],"nice":false,"zero":false},"axis":null},
    "color":{"condition":{"test":"datum.c=='d'","value":"#8c8c8c"},"value":"#b8b8b8"}}},
  {"data":{"name":"b"},"mark":{"type":"bar","width":2,"color":"#1f1fff"},
   "encoding":{"x":{"field":"i","type":"quantitative","scale":{"domain":[0,207.33],"nice":false,"zero":false},
     "axis":{"orient":"bottom","title":null,"values":[1.9,66.2,136.4],"labelExpr":"datum.value<10?'4/16':(datum.value<100?'4/17':'4/18')","labelFlush":false,"labelAlign":{"condition":{"test":"datum.value<10","value":"left"},"value":"center"},"labelOffset":{"condition":{"test":"datum.value<10","value":-5},"value":0},"domain":false,"labelPadding":1}},
    "y":{"field":"xv","type":"quantitative","scale":{"domain":[-103,1544],"nice":false,"zero":false},
     "axis":{"orient":"right","title":null,"values":[0,500,1000],"format":"d"}},
    "y2":{"datum":0}}},
  {"data":{"name":"ar"},"transform":[{"filter":"datum.p=='xv'"}],"mark":{"type":"rule","color":"#4a4aff","strokeWidth":1},
   "encoding":{"x":{"field":"x1","type":"quantitative","scale":{"domain":[0,207.33],"nice":false,"zero":false},"axis":null},"x2":{"field":"x2"},
    "y":{"field":"y1","type":"quantitative","scale":{"domain":[-103,1544],"nice":false,"zero":false},"axis":null},"y2":{"field":"y2"}}},
  {"data":{"name":"ar"},"transform":[{"filter":"datum.p=='xv'"}],"mark":{"type":"point","shape":"triangle-down","filled":true,"size":60,"angle":27,"color":"#1f1fff","opacity":1},
   "encoding":{"x":{"field":"hx","type":"quantitative","scale":{"domain":[0,207.33],"nice":false,"zero":false},"axis":null},
    "y":{"field":"hy","type":"quantitative","scale":{"domain":[-103,1544],"nice":false,"zero":false},"axis":null}}},
  {"data":{"name":"mk"},"transform":[{"filter":"datum.p=='xv'"}],"mark":{"type":"bar","size":9,"clip":false,"color":"#1010d0","orient":"horizontal"},
   "encoding":{"x":{"field":"x1","type":"quantitative","scale":{"domain":[0,207.33],"nice":false,"zero":false},"axis":null},"x2":{"field":"x2"},
    "y":{"field":"y","type":"quantitative","scale":{"domain":[-103,1544],"nice":false,"zero":false},"axis":null}}},
  {"data":{"name":"mk"},"transform":[{"filter":"datum.p=='xv'"}],"mark":{"type":"text","clip":false,"color":"#ffffff","fontSize":6.5,"align":"center","baseline":"middle"},
   "encoding":{"x":{"field":"xm","type":"quantitative","scale":{"domain":[0,207.33],"nice":false,"zero":false},"axis":null},
    "y":{"field":"y","type":"quantitative","scale":{"domain":[-103,1544],"nice":false,"zero":false},"axis":null},"text":{"field":"t"}}},
  {"data":{"values":[{"x":0.7,"y":0,"t":"© 2012 NinjaTrader, LLC"}]},"mark":{"type":"text","fontSize":6,"color":"#444444","align":"left","baseline":"middle"},
   "encoding":{"x":{"field":"x","type":"quantitative","scale":{"domain":[0,207.33],"nice":false,"zero":false},"axis":null},
    "y":{"field":"y","type":"quantitative","scale":{"domain":[-103,1544],"nice":false,"zero":false},"axis":null},"text":{"field":"t"}}}
 ]
}
]
}
